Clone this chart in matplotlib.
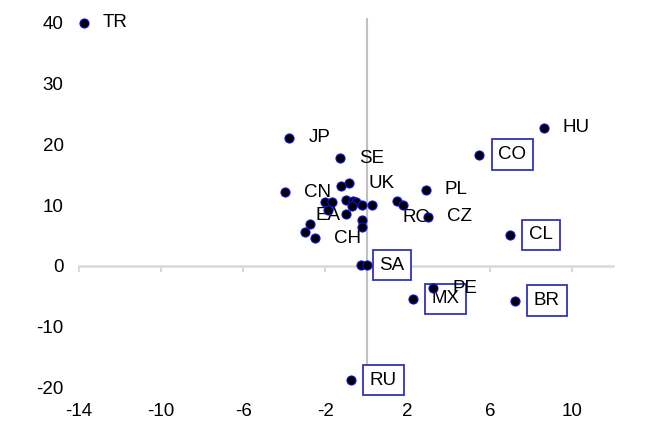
import matplotlib.pyplot as plt

plt.rcParams['font.family'] = ['Liberation Sans', 'DejaVu Sans']
plt.rcParams['axes.unicode_minus'] = False

# scatter points (x, y); labels, '' = no label
xs = [-13.76, -3.76, -1.28, 8.64, 5.49, 6.98, 2.89, 2.97, -3.96, -0.84,
      -2.51, -0.29, 0.0, 2.24, 3.25, 7.22, -0.76,
      -1.26, -2.03, -1.70, -1.86, -1.02, -0.65, -0.52, -0.24, 0.25, -0.73,
      -1.00, -0.24, -0.24, 1.47, 1.76, -2.76, -3.00]
ys = [40.0, 21.1, 17.7, 22.7, 18.3, 5.1, 12.5, 8.1, 12.1, 13.6,
      4.6, 0.15, 0.15, -5.4, -3.7, -5.7, -18.75,
      13.2, 10.5, 10.5, 9.2, 10.9, 10.7, 10.6, 10.1, 10.1, 9.9,
      8.6, 7.5, 6.4, 10.7, 10.1, 6.9, 5.6]
labels = ['TR', 'JP', 'SE', 'HU', 'CO', 'CL', 'PL', 'CZ', 'CN', 'UK',
          'CH', 'SA', '', 'MX', 'PE', 'BR', 'RU',
          '', '', '', 'EA', '', '', '', '', '', '',
          '', '', '', '', 'RO', '', '']
boxed = ['CO', 'CL', 'SA', 'MX', 'BR', 'RU']

xticks = [-14, -10, -6, -2, 2, 6, 10]
yticks = [-20, -10, 0, 10, 20, 30, 40]

# label offsets in pixels (default to the right of the dot)
offsets = {'EA': (-13, -5), 'RO': (0, -13)}

fig = plt.figure(figsize=(6.7, 4.42), dpi=100)
ax = fig.add_axes([0.1179, 0.1093, 0.797, 0.8502])

ax.set_xlim(-14, 12)
ax.set_ylim(-21, 40.8)

ax.axvline(0, color='#c0c0c0', lw=1.5, zorder=1)

for s in ['top', 'right', 'left']:
    ax.spines[s].set_visible(False)
ax.spines['bottom'].set_position(('data', 0))
ax.spines['bottom'].set_color('#d9d9d9')
ax.spines['bottom'].set_linewidth(1.8)
ax.spines['bottom'].set_zorder(0.5)
ax.set_xticks(xticks)
ax.tick_params(axis='x', direction='out', length=4, width=1.5,
               color='#d9d9d9', labelbottom=False)
ax.set_yticks(yticks)
ax.tick_params(axis='y', length=0, pad=11, labelsize=13.5)

sec = ax.secondary_xaxis('bottom')
sec.set_xticks(xticks)
sec.tick_params(length=0, pad=7, labelsize=13.5)
sec.spines['bottom'].set_visible(False)

ax.plot(xs, ys, 'o', color='black', markeredgecolor='#1010ff',
        markeredgewidth=0.7, markersize=6.6, clip_on=False, zorder=5)

for x, y, lab in zip(xs, ys, labels):
    if not lab:
        continue
    dx, dy = offsets.get(lab, (19, 0))
    kw = {'zorder': 4.5}
    if lab in boxed:
        kw['bbox'] = dict(boxstyle='square,pad=0.36', fc='white',
                          ec='#3333bb', lw=1.3)
        kw['zorder'] = 4
    ax.annotate(lab, (x, y), xytext=(dx, dy), textcoords='offset pixels',
                ha='left', va='center', fontsize=13.5,
                annotation_clip=False, **kw)

fig.savefig('out.png', dpi=100)
